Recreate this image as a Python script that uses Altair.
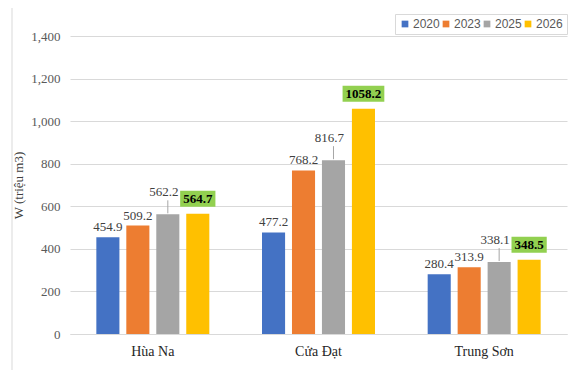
import altair as alt
import pandas as pd

sites = ["Hùa Na", "Cửa Đạt", "Trung Sơn"]
years = ["2020", "2023", "2025", "2026"]
v2020 = [454.9, 477.2, 280.4]
v2023 = [509.2, 768.2, 313.9]
v2025 = [562.2, 816.7, 338.1]
v2026 = [564.7, 1058.2, 348.5]
colors = ["#4472C4", "#ED7D31", "#A5A5A5", "#FFC000"]
y_ticks = [0, 200, 400, 600, 800, 1000, 1200, 1400]

rows = []
for yr, vals in zip(years, [v2020, v2023, v2025, v2026]):
    for s, v in zip(sites, vals):
        rows.append({"site": s, "year": yr, "value": v, "label": f"{v:.1f}"})
df = pd.DataFrame(rows)

W, H = 497, 298
SERIF = "Liberation Serif, Times New Roman, serif"

x_enc = alt.X(
    "site:N", sort=sites,
    scale=alt.Scale(paddingInner=0.318, paddingOuter=0.159),
    axis=alt.Axis(title=None, labelFont=SERIF, labelFontSize=14, labelColor="#262626",
                  labelPadding=10, ticks=False, domainColor="#D9D9D9", labelAngle=0),
)
xo_enc = alt.XOffset("year:N", sort=years, scale=alt.Scale(paddingInner=0.23, paddingOuter=0))
y_scale = alt.Scale(domain=[0, 1400], nice=False)

base = alt.Chart(df)

bars = base.mark_bar().encode(
    x=x_enc, xOffset=xo_enc,
    y=alt.Y("value:Q", scale=y_scale,
            axis=alt.Axis(values=y_ticks, format=",.0f", title="W (triệu m3)",
                          titleFont=SERIF, titleFontSize=13, titleFontWeight="normal",
                          titleColor="#404040", titlePadding=5,
                          labelFont=SERIF, labelFontSize=13, labelColor="#595959",
                          labelPadding=10, ticks=False, domain=False,
                          gridColor="#D9D9D9")),
    color=alt.Color("year:N", sort=years, scale=alt.Scale(domain=years, range=colors),
                    legend=alt.Legend(title=None, orient="none", legendX=325, legendY=-22,
                                      direction="horizontal", symbolType="square",
                                      symbolSize=45, symbolStrokeWidth=0,
                                      labelFont="Liberation Sans",
                                      labelFontSize=12, labelColor="#595959",
                                      columnPadding=0, labelOffset=2,
                                      strokeColor="#D9D9D9", padding=4)),
)

lab_low = base.transform_filter("datum.year == '2020' || datum.year == '2023'").mark_text(
    baseline="bottom", dy=-3, font=SERIF, fontSize=13, color="#404040"
).encode(x=x_enc, xOffset=xo_enc, y=alt.Y("value:Q", scale=y_scale), text="label:N")

lead = base.transform_filter("datum.year == '2025'").mark_rule(
    color="#A6A6A6", strokeWidth=1, yOffset=-14, y2Offset=-1
).encode(x=x_enc, xOffset=xo_enc, y=alt.Y("value:Q", scale=y_scale), y2="value:Q")

lab_25 = base.transform_filter("datum.year == '2025'").mark_text(
    baseline="bottom", dy=-15, dx=-4, font=SERIF, fontSize=13, color="#404040"
).encode(x=x_enc, xOffset=xo_enc, y=alt.Y("value:Q", scale=y_scale), text="label:N")

box_26 = base.transform_filter("datum.year == '2026'").transform_calculate(
    bw="((length(datum.label) - 1) * 6.5 + 3.25 + 6) / 2"
).transform_calculate(
    path="'M' + (-datum.bw) + ',-8H' + datum.bw + 'V8H' + (-datum.bw) + 'Z'"
).mark_point(filled=True, opacity=1, color="#92D050", size=4, yOffset=-15, strokeWidth=0).encode(
    x=x_enc, xOffset=xo_enc, y=alt.Y("value:Q", scale=y_scale),
    shape=alt.Shape("path:N", scale=None, legend=None),
)

lab_26 = base.transform_filter("datum.year == '2026'").mark_text(
    baseline="middle", dy=-15, font=SERIF, fontSize=13, fontWeight="bold", color="#000000"
).encode(x=x_enc, xOffset=xo_enc, y=alt.Y("value:Q", scale=y_scale), text="label:N")

frame = alt.Chart(pd.DataFrame({"a": [0]})).mark_rect(
    filled=False, stroke="#D9D9D9", strokeWidth=1
).encode(x=alt.value(-58), x2=alt.value(499), y=alt.value(-33), y2=alt.value(335))

chart = alt.layer(frame, bars, lab_low, lead, lab_25, box_26, lab_26).properties(
    width=W, height=H,
    autosize=alt.AutoSizeParams(type="none"),
    padding={"left": 62, "right": 1, "top": 28, "bottom": 36},
    background="white",
).configure_view(stroke=None)

chart.save("out.html", embed_options={"renderer": "svg", "actions": False})
